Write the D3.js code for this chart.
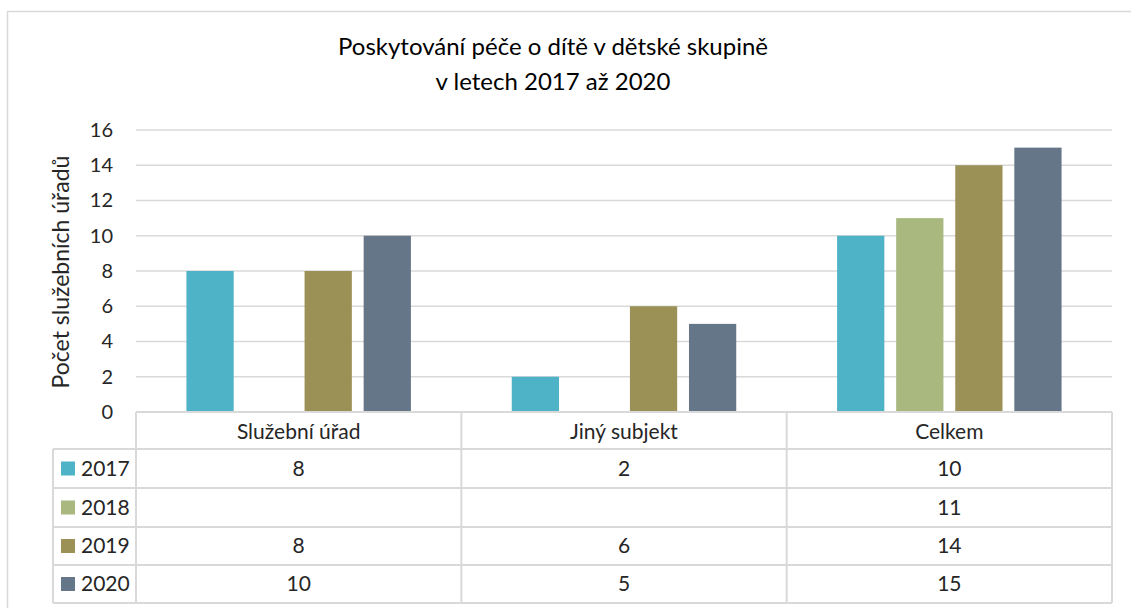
<!DOCTYPE html>
<html><head><meta charset="utf-8">
<script src="https://cdn.jsdelivr.net/npm/d3@7"></script>
<style>html,body{margin:0;padding:0;background:#fff;}svg{display:block;}</style>
</head><body>
<svg id="chart" width="1131" height="608"></svg>
<script>
const titleLines = ["Poskytování péče o dítě v dětské skupině", "v letech 2017 až 2020"];
const yAxisLabel = "Počet služebních úřadů";
const categories = ["Služební úřad", "Jiný subjekt", "Celkem"];
const years = ["2017", "2018", "2019", "2020"];
const values2017 = [8, 2, 10];
const values2018 = [null, null, 11];
const values2019 = [8, 6, 14];
const values2020 = [10, 5, 15];
const yTicks = [0, 2, 4, 6, 8, 10, 12, 14, 16];
const colors = ["#4fb3c8", "#a8b87f", "#9b9156", "#667689"];

const seriesValues = [values2017, values2018, values2019, values2020];
const FONT = "Lato, 'Open Sans', sans-serif";
const TXT = "#262626";
const svg = d3.select("#chart");

// outer chart border
svg.append("rect").attr("x", 7.5).attr("y", 11.5).attr("width", 1140).attr("height", 620)
  .attr("fill", "#fff").attr("stroke", "#d9d9d9").attr("stroke-width", 1.5);

const plot = {left: 136, right: 1112, top: 130, bottom: 412};
const y = d3.scaleLinear().domain([0, 16]).range([plot.bottom, plot.top]);
const x0 = d3.scaleBand().domain(categories).range([plot.left, plot.right]).paddingInner(0.31).paddingOuter(0.155);
const x1 = d3.scaleBand().domain(years).range([0, x0.bandwidth()]).paddingInner(0.2);

// gridlines
svg.append("g").selectAll("line").data(yTicks.filter(d => d > 0)).join("line")
  .attr("x1", plot.left).attr("x2", plot.right)
  .attr("y1", d => y(d)).attr("y2", d => y(d))
  .attr("stroke", "#d9d9d9").attr("stroke-width", 1.5);

// y axis labels
const yAxis = d3.axisLeft(y).tickValues(yTicks).tickSize(0).tickPadding(0);
const yg = svg.append("g").attr("transform", `translate(${plot.left - 23},0)`).call(yAxis);
yg.select(".domain").remove();
yg.selectAll("text").attr("font-family", FONT).attr("font-size", 20).attr("fill", TXT);

// bars
const bars = [];
years.forEach((yr, si) => categories.forEach((c, ci) => {
  const v = seriesValues[si][ci];
  if (v != null) bars.push({yr, c, v, color: colors[si]});
}));
svg.append("g").selectAll("rect").data(bars).join("rect")
  .attr("x", d => x0(d.c) + x1(d.yr))
  .attr("y", d => y(d.v))
  .attr("width", x1.bandwidth())
  .attr("height", d => y(0) - y(d.v))
  .attr("fill", d => d.color);

// data table
const rowH = [412, 449, 488, 527, 565, 603];
const tableLeft = 53;
const colEdges = categories.map(c => x0(c) - x0.step() * x0.paddingInner() / 2);
colEdges.push(plot.right);
const tg = svg.append("g");
const stroke = "#d9d9d9";
tg.append("line").attr("x1", plot.left).attr("x2", plot.right).attr("y1", rowH[0]).attr("y2", rowH[0]).attr("stroke", stroke).attr("stroke-width", 2);
for (let i = 1; i < rowH.length; i++) {
  tg.append("line").attr("x1", tableLeft).attr("x2", plot.right).attr("y1", rowH[i]).attr("y2", rowH[i]).attr("stroke", stroke).attr("stroke-width", 2);
}
colEdges.forEach(xe => {
  tg.append("line").attr("x1", xe).attr("x2", xe).attr("y1", rowH[0]).attr("y2", rowH[5]).attr("stroke", stroke).attr("stroke-width", 2);
});
tg.append("line").attr("x1", tableLeft).attr("x2", tableLeft).attr("y1", rowH[1]).attr("y2", rowH[5]).attr("stroke", stroke).attr("stroke-width", 2);

// header labels
tg.selectAll("text.cat").data(categories).join("text").attr("class", "cat")
  .attr("x", d => x0(d) + x0.bandwidth() / 2).attr("y", (rowH[0] + rowH[1]) / 2 + 1)
  .attr("dy", "0.35em").attr("text-anchor", "middle")
  .attr("font-family", FONT).attr("font-size", 21).attr("fill", TXT).text(d => d);

years.forEach((yr, si) => {
  const cy = (rowH[si + 1] + rowH[si + 2]) / 2;
  tg.append("rect").attr("x", 61).attr("y", cy - 7).attr("width", 14).attr("height", 14).attr("fill", colors[si]);
  tg.append("text").attr("x", 81).attr("y", cy).attr("dy", "0.35em")
    .attr("font-family", FONT).attr("font-size", 21).attr("fill", TXT).text(yr);
  categories.forEach((c, ci) => {
    const v = seriesValues[si][ci];
    if (v == null) return;
    tg.append("text").attr("x", x0(c) + x0.bandwidth() / 2).attr("y", cy).attr("dy", "0.35em")
      .attr("text-anchor", "middle").attr("font-family", FONT).attr("font-size", 21).attr("fill", TXT).text(v);
  });
});

// title
svg.append("g").selectAll("text").data(titleLines).join("text")
  .attr("x", 553).attr("y", (d, i) => 55 + i * 35)
  .attr("text-anchor", "middle").attr("font-family", FONT).attr("font-size", 24).attr("fill", "#000")
  .text(d => d);

// y axis title
svg.append("text").attr("transform", `translate(69,${(plot.top + plot.bottom) / 2 + 1}) rotate(-90)`)
  .attr("text-anchor", "middle").attr("font-family", FONT).attr("font-size", 23).attr("fill", TXT)
  .text(yAxisLabel);
</script>
</body></html>
